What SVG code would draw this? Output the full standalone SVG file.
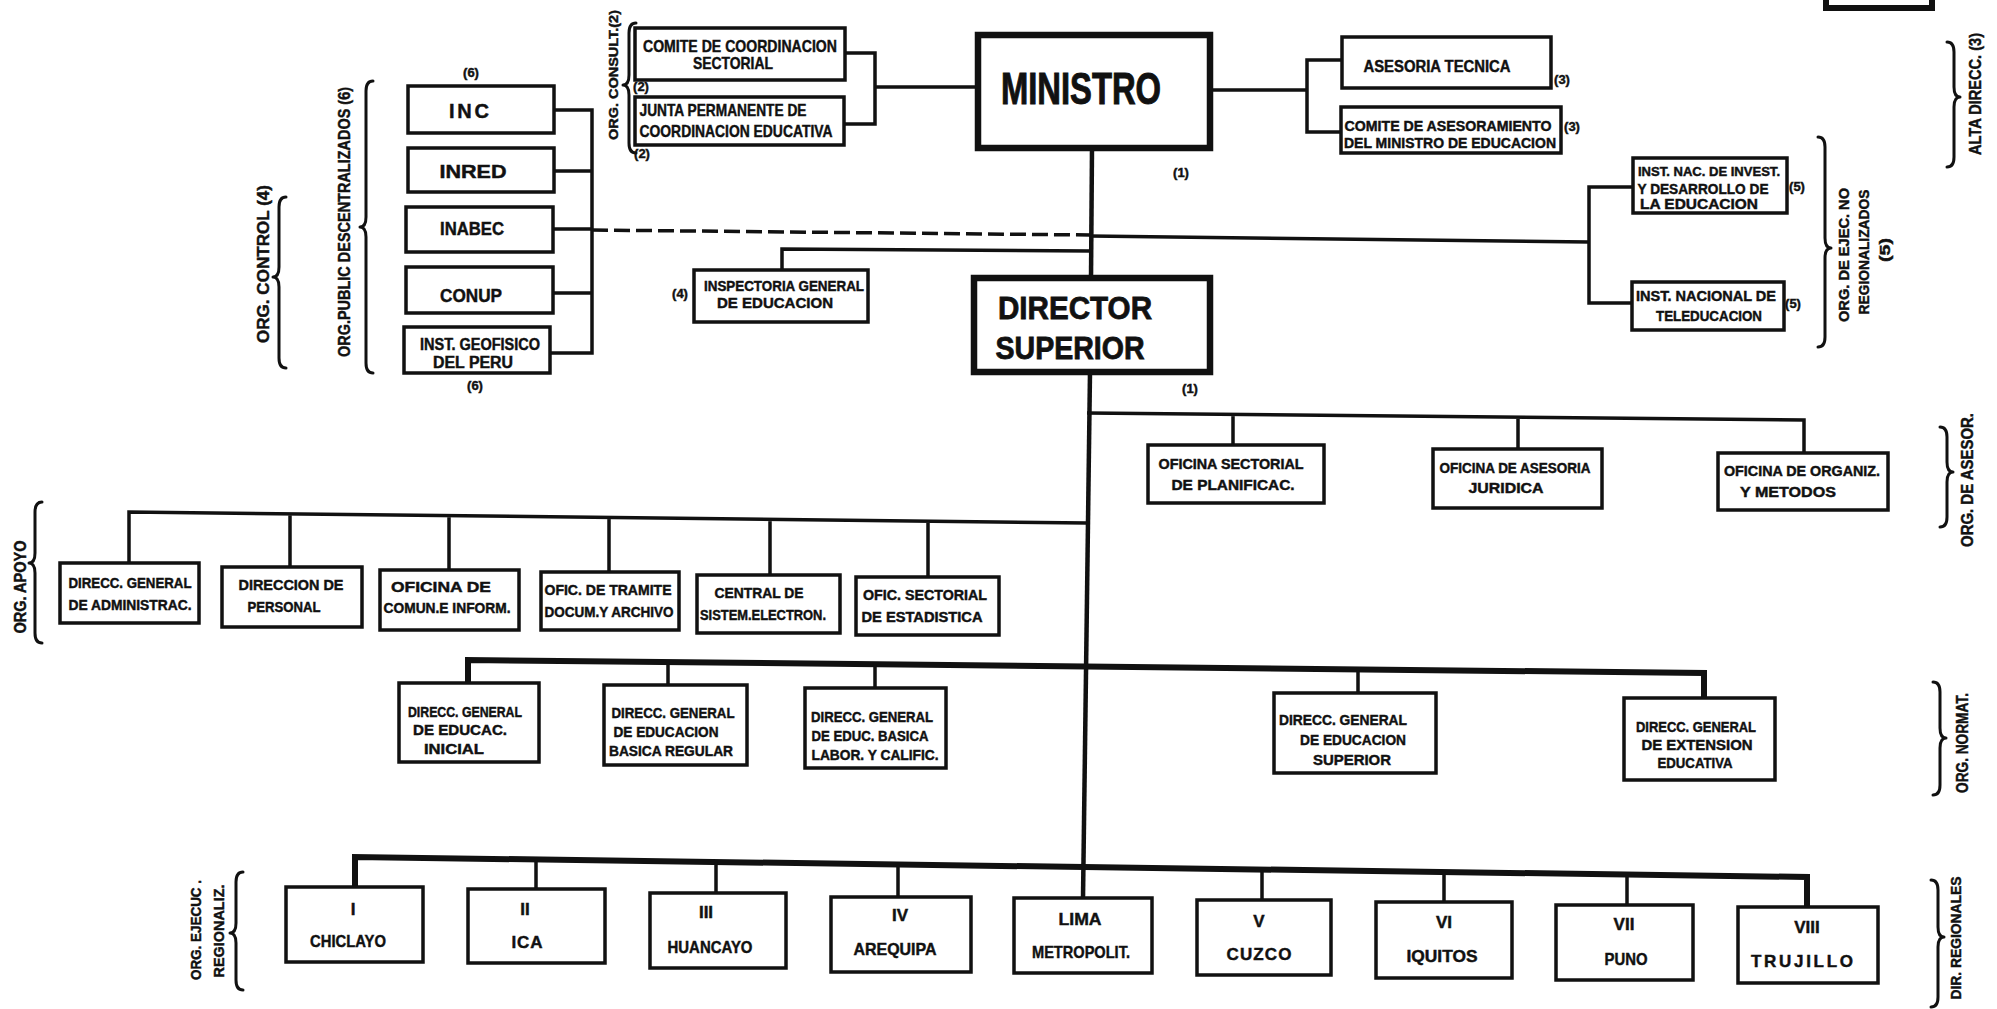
<svg xmlns="http://www.w3.org/2000/svg" width="1997" height="1009" viewBox="0 0 1997 1009">
<style>
.b{fill:#fff;stroke:#111;stroke-width:3.5}
.bt{fill:#fff;stroke:#111;stroke-width:6.5}
.c{fill:none;stroke:#111;stroke-width:3.5}
.ct{fill:none;stroke:#111;stroke-width:6}
.d{fill:none;stroke:#111;stroke-width:3.5;stroke-dasharray:16 6}
.br{fill:none;stroke:#111;stroke-width:3;stroke-linecap:round;stroke-linejoin:round}
text{font-family:"Liberation Sans",Arial,sans-serif;font-weight:bold;fill:#111;stroke:#111;stroke-width:0.45;text-anchor:middle}
.s{font-size:15px}
.m{font-size:17px}
.n{font-size:13px}
.g{font-size:16px}
.big{font-size:44px;stroke-width:1}
.dir{font-size:32px;stroke-width:0.8}
</style>
<rect width="1997" height="1009" fill="#fff"/>
<g id="connectors">
  <path class="c" d="M845,53 H875 V124 H844 M875,87 H978"/>
  <path class="c" d="M1210,90 H1307 M1342,60 H1307 V132 H1341"/>
  <path class="c" d="M554,110 H592 V353 H550 M554,171 H592 M553,229 H592 M553,293 H592"/>
  <line class="d" x1="592" y1="230" x2="1090" y2="235"/>
  <line class="c" x1="1090" y1="236" x2="1589" y2="242"/>
  <path class="c" d="M1633,187 H1589 V303 H1632"/>
  <line class="c" x1="1092" y1="148" x2="1091" y2="278" style="stroke-width:4.5"/>
  <line class="c" x1="1090" y1="372" x2="1083" y2="898" style="stroke-width:4.5"/>
  <path class="c" d="M1091,251 L782,249 V270"/>
  <path class="c" d="M1087,413 L1804,420 V453 M1233,414 V445 M1518,417 V449"/>
  <path class="c" d="M129,563 V512 L1087,523 M290,514 V567 M449,515 V570 M609,517 V572 M770,519 V575 M928,521 V577"/>
  <path class="ct" d="M468,683 V660 L1704,673 V698"/>
  <path class="c" d="M668,662 V685 M875,664 V688 M1358,670 V693"/>
  <path class="ct" d="M355,887 V857 L1807,877 V907"/>
  <path class="c" d="M536,860 V889 M716,862 V893 M898,865 V897 M1262,871 V900 M1444,873 V902 M1627,875 V905"/>
  <path class="ct" d="M1826,-5 V8 H1932 V-5"/>
</g>

<g id="brackets">
  <path class="br" d="M636,23 Q629,23 629,33 V75 Q629,85 623,85 Q629,85 629,95 V143 Q629,153 636,153"/>
  <path class="br" d="M373,81 Q366,81 366,91 V217 Q366,227 360,227 Q366,227 366,237 V363 Q366,373 373,373"/>
  <path class="br" d="M286,197 Q279,197 279,207 V267 Q279,277 273,277 Q279,277 279,287 V358 Q279,368 286,368"/>
  <path class="br" d="M42,502 Q35,502 35,512 V553 Q35,563 29,563 Q35,563 35,573 V633 Q35,643 42,643"/>
  <path class="br" d="M243,872 Q236,872 236,882 V923 Q236,933 230,933 Q236,933 236,943 V980 Q236,990 243,990"/>
  <path class="br" d="M1947,42 Q1954,42 1954,52 V87 Q1954,97 1960,97 Q1954,97 1954,107 V157 Q1954,167 1947,167"/>
  <path class="br" d="M1818,137 Q1825,137 1825,147 V238 Q1825,248 1831,248 Q1825,248 1825,258 V337 Q1825,347 1818,347"/>
  <path class="br" d="M1940,427 Q1947,427 1947,437 V462 Q1947,472 1953,472 Q1947,472 1947,482 V517 Q1947,527 1940,527"/>
  <path class="br" d="M1933,682 Q1940,682 1940,692 V728 Q1940,738 1946,738 Q1940,738 1940,748 V785 Q1940,795 1933,795"/>
  <path class="br" d="M1931,880 Q1938,880 1938,890 V927 Q1938,937 1944,937 Q1938,937 1938,947 V997 Q1938,1007 1931,1007"/>
</g>

<g id="group-labels">
  <text class="n" transform="translate(618,75) rotate(-90)" textLength="130" lengthAdjust="spacingAndGlyphs">ORG. CONSULT.(2)</text>
  <text class="m" transform="translate(350,222) rotate(-90)" textLength="270" lengthAdjust="spacingAndGlyphs">ORG.PUBLIC DESCENTRALIZADOS (6)</text>
  <text class="m" transform="translate(269,264) rotate(-90)" textLength="158" lengthAdjust="spacingAndGlyphs">ORG.   CONTROL  (4)</text>
  <text class="m" transform="translate(1981,94) rotate(-90)" textLength="122" lengthAdjust="spacingAndGlyphs">ALTA  DIRECC. (3)</text>
  <text class="s" transform="translate(1849,255) rotate(-90)" textLength="134" lengthAdjust="spacingAndGlyphs">ORG. DE EJEC. NO</text>
  <text class="s" transform="translate(1869,252) rotate(-90)" textLength="125" lengthAdjust="spacingAndGlyphs">REGIONALIZADOS</text>
  <text class="s" transform="translate(1890,250) rotate(-90)" textLength="24" lengthAdjust="spacingAndGlyphs">(5)</text>
  <text class="g" transform="translate(1973,480) rotate(-90)" textLength="134" lengthAdjust="spacingAndGlyphs">ORG. DE ASESOR.</text>
  <text class="g" transform="translate(26,587) rotate(-90)" textLength="93" lengthAdjust="spacingAndGlyphs">ORG.  APOYO</text>
  <text class="g" transform="translate(1968,743) rotate(-90)" textLength="100" lengthAdjust="spacingAndGlyphs">ORG. NORMAT.</text>
  <text class="s" transform="translate(1961,938) rotate(-90)" textLength="123" lengthAdjust="spacingAndGlyphs">DIR. REGIONALES</text>
  <text class="s" transform="translate(201,930) rotate(-90)" textLength="100" lengthAdjust="spacingAndGlyphs">ORG. EJECUC .</text>
  <text class="s" transform="translate(224,931) rotate(-90)" textLength="93" lengthAdjust="spacingAndGlyphs">REGIONALIZ.</text>
</g>

<g id="comite-coordinacion">
  <rect class="b" x="635" y="28" width="210" height="52"/>
  <text class="m" x="740" y="52" textLength="194" lengthAdjust="spacingAndGlyphs">COMITE DE COORDINACION</text>
  <text class="m" x="733" y="69" textLength="80" lengthAdjust="spacingAndGlyphs">SECTORIAL</text>
  <text class="n" x="641" y="91">(2)</text>
</g>
<g id="junta-permanente">
  <rect class="b" x="635" y="97" width="209" height="48"/>
  <text class="m" x="723" y="116" textLength="167" lengthAdjust="spacingAndGlyphs">JUNTA PERMANENTE  DE</text>
  <text class="m" x="736" y="137" textLength="193" lengthAdjust="spacingAndGlyphs">COORDINACION  EDUCATIVA</text>
  <text class="n" x="642" y="158">(2)</text>
</g>
<g id="ministro">
  <rect class="bt" x="978" y="35" width="232" height="113"/>
  <text class="big" x="1081" y="104" textLength="160" lengthAdjust="spacingAndGlyphs">MINISTRO</text>
  <text class="n" x="1181" y="177">(1)</text>
</g>
<g id="asesoria-tecnica">
  <rect class="b" x="1342" y="37" width="209" height="51"/>
  <text class="g" x="1437" y="72" textLength="147" lengthAdjust="spacingAndGlyphs">ASESORIA  TECNICA</text>
  <text class="n" x="1562" y="84">(3)</text>
</g>
<g id="comite-asesoramiento">
  <rect class="b" x="1341" y="107" width="220" height="46"/>
  <text class="s" x="1448" y="131" textLength="207" lengthAdjust="spacingAndGlyphs">COMITE  DE  ASESORAMIENTO</text>
  <text class="s" x="1450" y="148" textLength="212" lengthAdjust="spacingAndGlyphs">DEL MINISTRO DE EDUCACION</text>
  <text class="n" x="1572" y="131">(3)</text>
</g>

<g id="inc">
  <rect class="b" x="408" y="86" width="146" height="47"/>
  <text x="469" y="118" style="font-size:20px" textLength="40" lengthAdjust="spacing">INC</text>
  <text class="n" x="471" y="77">(6)</text>
</g>
<g id="inred">
  <rect class="b" x="408" y="148" width="146" height="44"/>
  <text x="473" y="178" style="font-size:18px" textLength="67" lengthAdjust="spacingAndGlyphs">INRED</text>
</g>
<g id="inabec">
  <rect class="b" x="406" y="207" width="147" height="45"/>
  <text x="472" y="235" style="font-size:18px" textLength="64" lengthAdjust="spacingAndGlyphs">INABEC</text>
</g>
<g id="conup">
  <rect class="b" x="406" y="267" width="147" height="46"/>
  <text x="471" y="302" style="font-size:19px" textLength="62" lengthAdjust="spacingAndGlyphs">CONUP</text>
</g>
<g id="inst-geofisico">
  <rect class="b" x="404" y="327" width="146" height="46"/>
  <text class="g" x="480" y="350" textLength="120" lengthAdjust="spacingAndGlyphs">INST. GEOFISICO</text>
  <text class="g" x="473" y="368" textLength="80" lengthAdjust="spacingAndGlyphs">DEL  PERU</text>
  <text class="n" x="475" y="390">(6)</text>
</g>

<g id="inspectoria">
  <rect class="b" x="694" y="270" width="174" height="52"/>
  <text class="s" x="784" y="291" textLength="160" lengthAdjust="spacingAndGlyphs">INSPECTORIA GENERAL</text>
  <text class="s" x="775" y="308" textLength="116" lengthAdjust="spacingAndGlyphs">DE   EDUCACION</text>
  <text class="n" x="680" y="298">(4)</text>
</g>
<g id="director-superior">
  <rect class="bt" x="974" y="278" width="236" height="94"/>
  <text class="dir" x="1075" y="319" textLength="154" lengthAdjust="spacingAndGlyphs">DIRECTOR</text>
  <text class="dir" x="1070" y="359" textLength="149" lengthAdjust="spacingAndGlyphs">SUPERIOR</text>
  <text class="n" x="1190" y="393">(1)</text>
</g>

<g id="inst-investigacion">
  <rect class="b" x="1633" y="158" width="154" height="55"/>
  <text class="n" x="1709" y="176" textLength="142" lengthAdjust="spacingAndGlyphs">INST. NAC. DE INVEST.</text>
  <text class="s" x="1703" y="194" textLength="131" lengthAdjust="spacingAndGlyphs">Y DESARROLLO DE</text>
  <text class="s" x="1699" y="209" textLength="118" lengthAdjust="spacingAndGlyphs">LA EDUCACION</text>
  <text class="n" x="1797" y="191">(5)</text>
</g>
<g id="inst-teleducacion">
  <rect class="b" x="1632" y="282" width="152" height="48"/>
  <text class="s" x="1706" y="301" textLength="140" lengthAdjust="spacingAndGlyphs">INST. NACIONAL DE</text>
  <text class="s" x="1709" y="321" textLength="106" lengthAdjust="spacingAndGlyphs">TELEDUCACION</text>
  <text class="n" x="1793" y="308">(5)</text>
</g>

<g id="of-planificacion">
  <rect class="b" x="1148" y="445" width="176" height="58"/>
  <text class="s" x="1231" y="469" textLength="145" lengthAdjust="spacingAndGlyphs">OFICINA SECTORIAL</text>
  <text class="s" x="1233" y="490" textLength="123" lengthAdjust="spacingAndGlyphs">DE  PLANIFICAC.</text>
</g>
<g id="of-juridica">
  <rect class="b" x="1433" y="449" width="169" height="59"/>
  <text class="s" x="1515" y="473" textLength="151" lengthAdjust="spacingAndGlyphs">OFICINA DE ASESORIA</text>
  <text class="s" x="1506" y="493" textLength="75" lengthAdjust="spacingAndGlyphs">JURIDICA</text>
</g>
<g id="of-organizacion">
  <rect class="b" x="1718" y="453" width="170" height="57"/>
  <text class="s" x="1802" y="476" textLength="156" lengthAdjust="spacingAndGlyphs">OFICINA DE ORGANIZ.</text>
  <text class="s" x="1788" y="497" textLength="96" lengthAdjust="spacingAndGlyphs">Y   METODOS</text>
</g>

<g id="dg-administracion">
  <rect class="b" x="60" y="563" width="139" height="60"/>
  <text class="s" x="130" y="588" textLength="123" lengthAdjust="spacingAndGlyphs">DIRECC. GENERAL</text>
  <text class="s" x="130" y="610" textLength="123" lengthAdjust="spacingAndGlyphs">DE ADMINISTRAC.</text>
</g>
<g id="dir-personal">
  <rect class="b" x="222" y="567" width="140" height="60"/>
  <text class="s" x="291" y="590" textLength="105" lengthAdjust="spacingAndGlyphs">DIRECCION DE</text>
  <text class="s" x="284" y="612" textLength="73" lengthAdjust="spacingAndGlyphs">PERSONAL</text>
</g>
<g id="of-comunicacion">
  <rect class="b" x="380" y="570" width="139" height="60"/>
  <text class="s" x="441" y="592" textLength="100" lengthAdjust="spacingAndGlyphs">OFICINA    DE</text>
  <text class="s" x="447" y="613" textLength="127" lengthAdjust="spacingAndGlyphs">COMUN.E  INFORM.</text>
</g>
<g id="of-tramite">
  <rect class="b" x="541" y="572" width="138" height="58"/>
  <text class="s" x="608" y="595" textLength="127" lengthAdjust="spacingAndGlyphs">OFIC. DE TRAMITE</text>
  <text class="s" x="609" y="617" textLength="129" lengthAdjust="spacingAndGlyphs">DOCUM.Y ARCHIVO</text>
</g>
<g id="central-sistemas">
  <rect class="b" x="697" y="575" width="143" height="58"/>
  <text class="s" x="759" y="598" textLength="89" lengthAdjust="spacingAndGlyphs">CENTRAL DE</text>
  <text class="s" x="763" y="620" textLength="126" lengthAdjust="spacingAndGlyphs">SISTEM.ELECTRON.</text>
</g>
<g id="of-estadistica">
  <rect class="b" x="856" y="577" width="143" height="58"/>
  <text class="s" x="925" y="600" textLength="124" lengthAdjust="spacingAndGlyphs">OFIC. SECTORIAL</text>
  <text class="s" x="922" y="622" textLength="121" lengthAdjust="spacingAndGlyphs">DE ESTADISTICA</text>
</g>

<g id="dg-inicial">
  <rect class="b" x="399" y="683" width="140" height="79"/>
  <text class="s" x="465" y="717" textLength="114" lengthAdjust="spacingAndGlyphs">DIRECC. GENERAL</text>
  <text class="s" x="460" y="735" textLength="94" lengthAdjust="spacingAndGlyphs">DE   EDUCAC.</text>
  <text class="s" x="454" y="754" textLength="60" lengthAdjust="spacingAndGlyphs">INICIAL</text>
</g>
<g id="dg-basica-regular">
  <rect class="b" x="604" y="685" width="143" height="80"/>
  <text class="s" x="673" y="718" textLength="123" lengthAdjust="spacingAndGlyphs">DIRECC. GENERAL</text>
  <text class="s" x="666" y="737" textLength="105" lengthAdjust="spacingAndGlyphs">DE EDUCACION</text>
  <text class="s" x="671" y="756" textLength="124" lengthAdjust="spacingAndGlyphs">BASICA REGULAR</text>
</g>
<g id="dg-basica-laboral">
  <rect class="b" x="805" y="688" width="141" height="80"/>
  <text class="s" x="872" y="722" textLength="122" lengthAdjust="spacingAndGlyphs">DIRECC. GENERAL</text>
  <text class="s" x="870" y="741" textLength="117" lengthAdjust="spacingAndGlyphs">DE EDUC. BASICA</text>
  <text class="s" x="875" y="760" textLength="127" lengthAdjust="spacingAndGlyphs">LABOR. Y CALIFIC.</text>
</g>
<g id="dg-superior">
  <rect class="b" x="1274" y="693" width="162" height="80"/>
  <text class="s" x="1343" y="725" textLength="128" lengthAdjust="spacingAndGlyphs">DIRECC. GENERAL</text>
  <text class="s" x="1353" y="745" textLength="106" lengthAdjust="spacingAndGlyphs">DE EDUCACION</text>
  <text class="s" x="1352" y="765" textLength="78" lengthAdjust="spacingAndGlyphs">SUPERIOR</text>
</g>
<g id="dg-extension">
  <rect class="b" x="1624" y="698" width="151" height="82"/>
  <text class="s" x="1696" y="732" textLength="120" lengthAdjust="spacingAndGlyphs">DIRECC. GENERAL</text>
  <text class="s" x="1697" y="750" textLength="111" lengthAdjust="spacingAndGlyphs">DE EXTENSION</text>
  <text class="s" x="1695" y="768" textLength="75" lengthAdjust="spacingAndGlyphs">EDUCATIVA</text>
</g>

<g id="reg-chiclayo">
  <rect class="b" x="286" y="887" width="137" height="75"/>
  <text class="m" x="353" y="915">I</text>
  <text class="m" x="348" y="947" textLength="76" lengthAdjust="spacingAndGlyphs">CHICLAYO</text>
</g>
<g id="reg-ica">
  <rect class="b" x="468" y="889" width="137" height="74"/>
  <text class="m" x="525" y="915">II</text>
  <text class="m" x="527" y="948" textLength="31" lengthAdjust="spacing">ICA</text>
</g>
<g id="reg-huancayo">
  <rect class="b" x="650" y="893" width="136" height="75"/>
  <text class="m" x="706" y="918">III</text>
  <text class="m" x="710" y="953" textLength="85" lengthAdjust="spacingAndGlyphs">HUANCAYO</text>
</g>
<g id="reg-arequipa">
  <rect class="b" x="831" y="897" width="140" height="75"/>
  <text class="m" x="900" y="921">IV</text>
  <text class="m" x="895" y="955" textLength="83" lengthAdjust="spacingAndGlyphs">AREQUIPA</text>
</g>
<g id="reg-lima">
  <rect class="b" x="1014" y="898" width="138" height="75"/>
  <text class="m" x="1080" y="925" textLength="43" lengthAdjust="spacingAndGlyphs">LIMA</text>
  <text class="m" x="1081" y="958" textLength="98" lengthAdjust="spacingAndGlyphs">METROPOLIT.</text>
</g>
<g id="reg-cuzco">
  <rect class="b" x="1197" y="900" width="134" height="75"/>
  <text class="m" x="1259" y="927">V</text>
  <text class="m" x="1259" y="960" textLength="65" lengthAdjust="spacing">CUZCO</text>
</g>
<g id="reg-iquitos">
  <rect class="b" x="1376" y="902" width="136" height="76"/>
  <text class="m" x="1444" y="928">VI</text>
  <text class="m" x="1442" y="962" textLength="71" lengthAdjust="spacingAndGlyphs">IQUITOS</text>
</g>
<g id="reg-puno">
  <rect class="b" x="1556" y="905" width="137" height="75"/>
  <text class="m" x="1624" y="930">VII</text>
  <text class="m" x="1626" y="965" textLength="43" lengthAdjust="spacingAndGlyphs">PUNO</text>
</g>
<g id="reg-trujillo">
  <rect class="b" x="1738" y="907" width="140" height="76"/>
  <text class="m" x="1807" y="933">VIII</text>
  <text class="m" x="1802" y="967" textLength="102" lengthAdjust="spacing">TRUJILLO</text>
</g>
</svg>
